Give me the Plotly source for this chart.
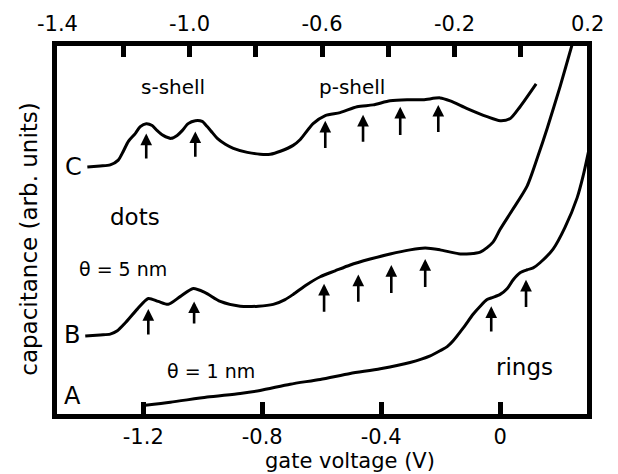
import plotly.graph_objects as go

# ---------------- data (gate voltage in V, capacitance in arb. units) ----------------
# Curve A: rings, theta = 1 nm
a_v = [-1.193, -1.109, -0.985, -0.874, -0.807, -0.706, -0.605, -0.504, -0.403, -0.303,
       -0.235, -0.202, -0.178, -0.158, -0.124, -0.091, -0.067, -0.044, -0.024, 0.0,
       0.024, 0.044, 0.067, 0.091, 0.111, 0.134, 0.178, 0.218, 0.259, 0.279, 0.296, 0.309]
a_y = [0.24, 0.32, 0.46, 0.56, 0.64, 0.81, 0.94, 1.10, 1.23, 1.40,
       1.58, 1.72, 1.83, 1.99, 2.34, 2.71, 2.93, 3.11, 3.17, 3.25,
       3.41, 3.65, 3.84, 3.92, 3.97, 4.11, 4.48, 5.07, 5.88, 6.47, 7.09, 7.62]

# Curve B: dots, theta = 5 nm
b_v = [-1.395, -1.345, -1.311, -1.287, -1.261, -1.220, -1.183, -1.150, -1.116, -1.076,
       -1.032, -0.992, -0.941, -0.874, -0.813, -0.763, -0.723, -0.696, -0.649, -0.605,
       -0.555, -0.504, -0.437, -0.370, -0.303, -0.252, -0.202, -0.134, -0.067, -0.024,
       0.0, 0.040, 0.091, 0.128, 0.158, 0.202, 0.242, 0.252]
b_y = [2.12, 2.15, 2.17, 2.26, 2.47, 2.85, 3.14, 3.06, 2.98, 3.19,
       3.41, 3.30, 3.06, 2.93, 2.93, 2.98, 3.11, 3.25, 3.52, 3.73,
       3.89, 4.05, 4.21, 4.35, 4.46, 4.51, 4.46, 4.35, 4.40, 4.67,
       5.02, 5.53, 6.20, 7.03, 7.76, 8.91, 10.04, 10.31]

# Curve C: dots (upper trace)
c_v = [-1.388, -1.345, -1.311, -1.284, -1.267, -1.250, -1.227, -1.210, -1.190, -1.170,
       -1.153, -1.133, -1.106, -1.086, -1.069, -1.049, -1.025, -1.002, -0.985, -0.968,
       -0.951, -0.924, -0.897, -0.850, -0.807, -0.773, -0.739, -0.696, -0.672, -0.629,
       -0.588, -0.538, -0.481, -0.427, -0.370, -0.313, -0.259, -0.202, -0.168, -0.111,
       -0.044, 0.0, 0.034, 0.067, 0.121]
c_y = [6.71, 6.74, 6.77, 6.90, 7.14, 7.41, 7.62, 7.81, 7.89, 7.84,
       7.70, 7.57, 7.49, 7.57, 7.70, 7.89, 7.97, 7.95, 7.81, 7.65,
       7.49, 7.33, 7.22, 7.11, 7.06, 7.06, 7.14, 7.30, 7.46, 7.89,
       8.11, 8.19, 8.35, 8.40, 8.51, 8.54, 8.54, 8.59, 8.51, 8.30,
       8.08, 7.97, 8.03, 8.35, 8.97]

# Arrows: voltage, tail value, head value
arr_c_v = [-1.190, -1.025, -0.588, -0.461, -0.336, -0.208]
arr_c_tail = [6.90, 6.95, 7.19, 7.36, 7.54, 7.62]
arr_c_head = [7.62, 7.68, 7.97, 8.13, 8.35, 8.40]

arr_b_v = [-1.183, -1.029, -0.592, -0.477, -0.366, -0.252]
arr_b_tail = [2.12, 2.42, 2.74, 3.01, 3.25, 3.41]
arr_b_head = [2.85, 3.06, 3.54, 3.79, 4.05, 4.21]

arr_a_v = [-0.030, 0.087]
arr_a_tail = [2.20, 2.87]
arr_a_head = [2.93, 3.65]

# Tick labels
bottom_tickvals = [-1.2, -0.8, -0.4, 0.0]
bottom_ticktext = ["-1.2", "-0.8", "-0.4", "0"]
top_tickvals = [-1.2, -1.0, -0.8, -0.6, -0.4, -0.2, 0.0]
top_ticktext = ["", "-1.0", "", "-0.6", "", "-0.2", ""]
top_edge_vals = [-1.4, 0.2]
top_edge_text = ["-1.4", "0.2"]

FONT = "DejaVu Sans"

fig = go.Figure()
for v, y in ((a_v, a_y), (b_v, b_y), (c_v, c_y)):
    fig.add_trace(go.Scatter(x=v, y=y, mode="lines",
                             line=dict(color="black", width=3, shape="spline", smoothing=0.7),
                             hoverinfo="skip", showlegend=False))
# invisible trace to activate the top axis
fig.add_trace(go.Scatter(x=top_edge_vals, y=[-5, -5], xaxis="x2", mode="markers",
                         marker=dict(opacity=0), hoverinfo="skip", showlegend=False))

annotations = []
for vs, tails, heads in ((arr_c_v, arr_c_tail, arr_c_head),
                         (arr_b_v, arr_b_tail, arr_b_head),
                         (arr_a_v, arr_a_tail, arr_a_head)):
    for v, t, h in zip(vs, tails, heads):
        annotations.append(dict(x=v, y=h, ax=v, ay=t, xref="x", yref="y", axref="x", ayref="y",
                                text="", showarrow=True, arrowhead=2, arrowsize=0.9,
                                arrowwidth=2.6, arrowcolor="black", standoff=0))

labels = [
    ("C", -1.435, 6.72, 24), ("B", -1.440, 2.15, 24), ("A", -1.439, 0.48, 24),
    ("s-shell", -1.099, 8.89, 20), ("p-shell", -0.497, 8.89, 20),
    ("dots", -1.229, 5.34, 23), ("θ = 5 nm", -1.269, 3.95, 19),
    ("θ = 1 nm", -0.973, 1.18, 19), ("rings", 0.082, 1.29, 23),
]
for txt, x, y, s in labels:
    annotations.append(dict(x=x, y=y, xref="x", yref="y", text=txt, showarrow=False,
                            font=dict(family=FONT, size=s, color="black"),
                            xanchor="center", yanchor="middle"))

for v, t in zip(top_edge_vals, top_edge_text):
    annotations.append(dict(x=v, y=1, xref="x2", yref="paper", text=t, showarrow=False,
                            yanchor="bottom", yshift=8,
                            font=dict(family=FONT, size=21, color="black")))

annotations.append(dict(x=0.5536, y=-0.128, xref="paper", yref="paper", text="gate voltage (V)",
                        showarrow=False, font=dict(family=FONT, size=21, color="black"),
                        xanchor="center", yanchor="middle"))
annotations.append(dict(x=-0.053, y=0.476, xref="paper", yref="paper",
                        text="capacitance (arb. units)", textangle=-90,
                        showarrow=False, font=dict(family=FONT, size=23, color="black"),
                        xanchor="center", yanchor="middle"))

fig.update_layout(
    width=618, height=474,
    margin=dict(l=57, r=31, t=42, b=60),
    paper_bgcolor="white", plot_bgcolor="white",
    font=dict(family=FONT, color="black"),
    xaxis=dict(range=[-1.49, 0.292], tickvals=bottom_tickvals, ticktext=bottom_ticktext,
               ticks="inside", ticklen=12, tickwidth=4.5, tickcolor="black",
               showline=True, linewidth=5, linecolor="black", mirror=True,
               showgrid=False, zeroline=False, tickfont=dict(family=FONT, size=21),
               ticklabelstandoff=0),
    xaxis2=dict(range=[-1.4, 0.2], overlaying="x", side="top", anchor="y",
                tickvals=top_tickvals, ticktext=top_ticktext,
                ticks="inside", ticklen=11, tickwidth=4.5, tickcolor="black",
                showline=False, showgrid=False, zeroline=False,
                tickfont=dict(family=FONT, size=21), ticklabelstandoff=10),
    yaxis=dict(range=[0, 10], showline=True, linewidth=5, linecolor="black", mirror=True,
               ticks="", showticklabels=False, showgrid=False, zeroline=False),
    annotations=annotations,
)

fig.write_html("out.html", config={"displayModeBar": False},
               post_script="document.body.style.margin='0';document.body.style.padding='0';")
